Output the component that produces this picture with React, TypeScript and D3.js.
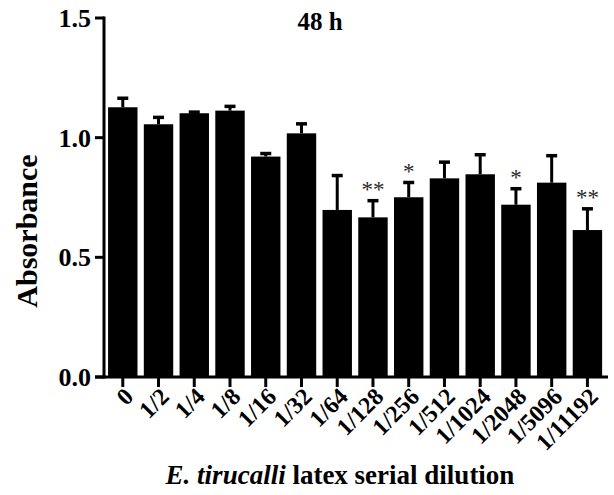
import React from "react";
import * as d3 from "d3";

const categories = ["0", "1/2", "1/4", "1/8", "1/16", "1/32", "1/64", "1/128", "1/256", "1/512", "1/1024", "1/2048", "1/5096", "1/11192"];
const means = [1.127, 1.056, 1.102, 1.113, 0.921, 1.018, 0.698, 0.667, 0.751, 0.830, 0.847, 0.720, 0.812, 0.614];
const errors = [0.044, 0.035, 0.011, 0.024, 0.019, 0.046, 0.150, 0.076, 0.068, 0.074, 0.088, 0.073, 0.119, 0.095];
const stars = ["", "", "", "", "", "", "", "**", "*", "", "", "*", "", "**"];
const yTicks = [0.0, 0.5, 1.0, 1.5];

const W = 614;
const H = 495;
const FONT = "'Liberation Serif', 'Times New Roman', serif";

export default function App() {
  const x = d3.scaleBand<string>().domain(categories).range([104.5, 605.7]).paddingInner(0.177).paddingOuter(0.1);
  const y = d3.scaleLinear().domain([0, 1.5]).range([377, 18]);
  const bw = x.bandwidth();
  const axisX = 104;
  const capW = 11;

  return (
    <svg width={W} height={H} style={{ position: "absolute", left: 0, top: 0, background: "#fff" }} fontFamily={FONT}>
      {/* bars */}
      {categories.map((c, i) => {
        const x0 = x(c)!;
        const cx = x0 + bw / 2;
        const top = y(means[i] + errors[i]);
        return (
          <g key={c}>
            <line x1={cx} x2={cx} y1={y(means[i])} y2={top + 1.5} stroke="#000" strokeWidth={3} />
            <line x1={cx - capW / 2} x2={cx + capW / 2} y1={top + 1.5} y2={top + 1.5} stroke="#000" strokeWidth={3.5} />
            <rect x={x0} y={y(means[i])} width={bw} height={y(0) - y(means[i])} fill="#000" />
            {stars[i] && (
              <text x={cx} y={top - 2} textAnchor="middle" fontSize={23} fill="#2a2a2a">
                {stars[i]}
              </text>
            )}
          </g>
        );
      })}
      {/* y axis */}
      <line x1={axisX} x2={axisX} y1={y(1.5) - 1.5} y2={y(0) + 1.5} stroke="#000" strokeWidth={3} />
      {yTicks.map((t) => (
        <g key={t}>
          <line x1={axisX - 9} x2={axisX} y1={y(t)} y2={y(t)} stroke="#000" strokeWidth={3} />
          <text x={axisX - 13} y={y(t)} dy="0.35em" textAnchor="end" fontSize={26} fontWeight="bold">
            {t.toFixed(1)}
          </text>
        </g>
      ))}
      {/* x axis */}
      <line x1={axisX - 9} x2={608} y1={y(0)} y2={y(0)} stroke="#000" strokeWidth={3} />
      {categories.map((c) => {
        const cx = x(c)! + bw / 2;
        return (
          <g key={"t" + c}>
            <line x1={cx} x2={cx} y1={y(0)} y2={y(0) + 10} stroke="#000" strokeWidth={3} />
            <text
              transform={`translate(${cx + 12},${y(0) + 21}) rotate(-45)`}
              textAnchor="end"
              fontSize={24}
              fontWeight="bold"
            >
              {c}
            </text>
          </g>
        );
      })}
      {/* title */}
      <text x={320} y={30} textAnchor="middle" fontSize={25} fontWeight="bold">
        48 h
      </text>
      {/* y label */}
      <text transform={`translate(37,231) rotate(-90)`} textAnchor="middle" fontSize={30} fontWeight="bold">
        Absorbance
      </text>
      {/* x label */}
      <text x={340} y={484} textAnchor="middle" fontSize={27} fontWeight="bold">
        <tspan fontStyle="italic">E. tirucalli</tspan>
        <tspan> latex serial dilution</tspan>
      </text>
    </svg>
  );
}
